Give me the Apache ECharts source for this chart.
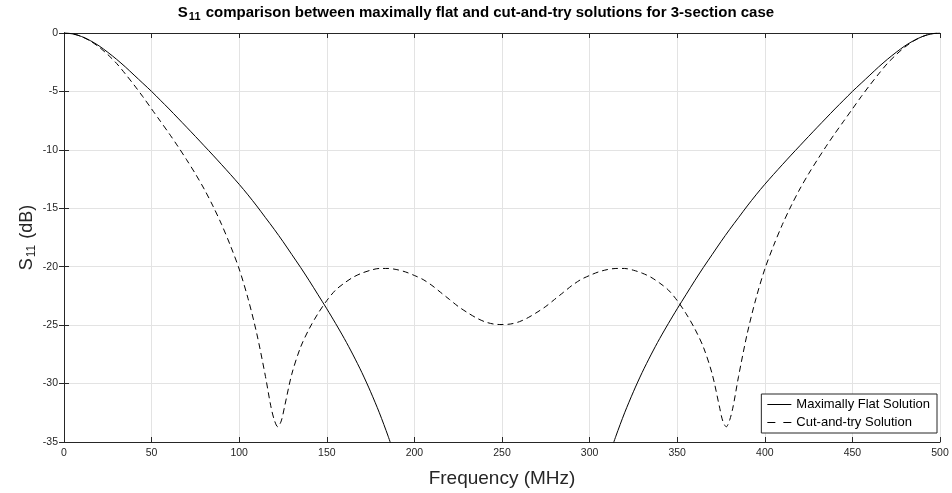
<!DOCTYPE html>
<html>
<head>
<meta charset="utf-8">
<script src="https://cdn.jsdelivr.net/npm/echarts@6/dist/echarts.min.js"></script>
<style>
  html, body { margin: 0; padding: 0; background: #fff; }
  #chart { width: 952px; height: 493px; }
</style>
</head>
<body>
<div id="chart"></div>
<script>
// values (frequency in MHz, S11 in dB)
const flatFreq = [0, 5, 10, 15, 20, 25, 30, 35, 40, 45, 50, 55, 60, 65, 70, 75, 80, 85, 90, 95,
  100, 105, 110, 115, 120, 125, 130, 135, 140, 145, 150, 155, 160, 165, 170, 175, 180, 185, 190,
  310, 315, 320, 325, 330, 335, 340, 345, 350, 355, 360, 365, 370, 375, 380, 385, 390, 395,
  400, 405, 410, 415, 420, 425, 430, 435, 440, 445, 450, 455, 460, 465, 470, 475, 480, 485, 490, 495, 500];
const flatS11 = [0, -0.08, -0.3, -0.65, -1.1, -1.65, -2.25, -2.9, -3.6, -4.3, -5.0, -5.75, -6.5, -7.28, -8.06, -8.85, -9.65, -10.45, -11.27, -12.1,
  -12.95, -13.85, -14.8, -15.8, -16.8, -17.85, -18.95, -20.05, -21.2, -22.4, -23.6, -24.85, -26.15, -27.55, -29.05, -30.7, -32.5, -34.5, -36.7,
  -36.7, -34.5, -32.5, -30.7, -29.05, -27.55, -26.15, -24.85, -23.6, -22.4, -21.2, -20.05, -18.95, -17.85, -16.8, -15.8, -14.8, -13.85,
  -12.95, -12.1, -11.27, -10.45, -9.65, -8.85, -8.06, -7.28, -6.5, -5.75, -5.0, -4.3, -3.6, -2.9, -2.25, -1.65, -1.1, -0.65, -0.3, -0.08, 0];

const cutFreq = [0, 5, 10, 15, 20, 25, 30, 35, 40, 45, 50, 55, 60, 65, 70, 75, 80, 85, 90, 95,
  100, 105, 110, 115, 118, 120, 122, 124, 126, 130, 135, 140, 145, 150, 155, 160, 165, 170, 175, 180,
  185, 190, 195, 200, 205, 210, 215, 220, 225, 230, 235, 240, 245, 250, 255, 260, 265, 270, 275, 280,
  285, 290, 295, 300, 305, 310, 315, 320, 325, 330, 335, 340, 345, 350, 355, 360, 365, 370, 374, 376,
  378, 380, 382, 385, 390, 395, 400, 405, 410, 415, 420, 425, 430, 435, 440, 445, 450, 455, 460, 465,
  470, 475, 480, 485, 490, 495, 500];
const cutS11 = [0, -0.07, -0.3, -0.68, -1.2, -1.85, -2.6, -3.5, -4.45, -5.45, -6.5, -7.55, -8.6, -9.7, -10.85, -12.05, -13.35, -14.8, -16.4, -18.2,
  -20.2, -22.7, -25.7, -29.4, -31.9, -33.1, -33.7, -33.2, -31.9, -29.2, -26.9, -25.3, -24.0, -22.9, -22.0, -21.4, -20.9, -20.55, -20.3, -20.15,
  -20.15, -20.25, -20.45, -20.75, -21.1, -21.6, -22.2, -22.8, -23.4, -23.9, -24.35, -24.7, -24.9, -24.95, -24.9, -24.7, -24.35, -23.9, -23.4, -22.8,
  -22.2, -21.6, -21.1, -20.75, -20.45, -20.25, -20.15, -20.15, -20.3, -20.55, -20.9, -21.4, -22.0, -22.9, -24.0, -25.3, -26.9, -29.2, -31.9, -33.2,
  -33.7, -33.1, -31.9, -29.4, -25.7, -22.7, -20.2, -18.2, -16.4, -14.8, -13.35, -12.05, -10.85, -9.7, -8.6, -7.55, -6.5, -5.45, -4.45, -3.5,
  -2.6, -1.85, -1.2, -0.68, -0.3, -0.07, 0];

const xTicks = [0, 50, 100, 150, 200, 250, 300, 350, 400, 450, 500];
const yTicks = [-35, -30, -25, -20, -15, -10, -5, 0];

const FONT = '"Liberation Sans", Arial, Helvetica, sans-serif';
const AXIS_COLOR = '#262626';
const LABEL_COLOR = '#262626';

function pairs(xs, ys) {
    let out = [];
    for (let i = 0; i < xs.length; i++) {
        // gap where the flat solution drops far below the plot
        if (i > 0 && xs[i] - xs[i - 1] > 50)
            out.push([null, null]);
        out.push([xs[i], ys[i]]);
    }
    return out;
}

const boxAxis = {
    axisLine: { show: true, lineStyle: { color: AXIS_COLOR, width: 1 } },
    axisTick: { show: true, inside: true, length: 5, lineStyle: { color: AXIS_COLOR } },
    axisLabel: { show: false },
    splitLine: { show: false }
};

let chart = echarts.init(document.getElementById('chart'), null, { renderer: 'canvas' });

let option = {
    backgroundColor: '#fff',
    animation: false,
    title: {
        text: '{a|S}{b|11}{a| comparison between maximally flat and cut-and-try solutions for 3-section case}',
        left: 'center',
        top: 0,
        textStyle: {
            rich: {
                a: { fontFamily: FONT, fontWeight: 'bold', fontSize: 15, color: '#000', verticalAlign: 'top', lineHeight: 17 },
                b: { fontFamily: FONT, fontWeight: 'bold', fontSize: 11, color: '#000', verticalAlign: 'bottom', lineHeight: 11, padding: [12, 1, 0, 1] }
            }
        }
    },
    grid: { left: 64, right: 12, top: 33, bottom: 50, containLabel: false },
    legend: {
        orient: 'vertical',
        right: 15,
        bottom: 60,
        backgroundColor: '#fff',
        borderColor: AXIS_COLOR,
        borderWidth: 1,
        borderRadius: 0,
        padding: [4, 7, 4, 6],
        itemWidth: 24,
        itemHeight: 12,
        itemGap: 5,
        textStyle: { fontFamily: FONT, fontSize: 13, color: '#000' },
        data: [
            { name: 'Maximally Flat Solution', icon: 'path://M0,0h24v1h-24z' },
            { name: 'Cut-and-try Solution', icon: 'path://M0,0h8v1h-8zM16,0h8v1h-8z' }
        ]
    },
    xAxis: [
        {
            type: 'value',
            min: 0, max: 500, interval: 50,
            name: 'Frequency (MHz)',
            nameLocation: 'middle',
            nameMoveOverlap: false,
            nameGap: 27,
            nameTextStyle: { fontFamily: FONT, fontSize: 19, color: LABEL_COLOR },
            axisLine: { show: true, onZero: false, lineStyle: { color: AXIS_COLOR, width: 1 } },
            axisTick: { show: true, inside: true, length: 5, lineStyle: { color: AXIS_COLOR } },
            axisLabel: {
                fontFamily: FONT, fontSize: 10.5, color: LABEL_COLOR, margin: 6,
                formatter: v => xTicks.indexOf(v) >= 0 ? String(v) : ''
            },
            splitLine: { show: true, lineStyle: { color: '#e3e3e3', width: 1 } }
        },
        Object.assign({ type: 'value', position: 'top', min: 0, max: 500, interval: 50 }, boxAxis)
    ],
    yAxis: [
        {
            type: 'value',
            min: -35, max: 0, interval: 5,
            name: '{a|S}{b|11}{a| (dB)}',
            nameLocation: 'middle',
            nameRotate: 90,
            nameMoveOverlap: false,
            nameGap: 26,
            nameTextStyle: {
                rich: {
                    a: { fontFamily: FONT, fontSize: 18, color: LABEL_COLOR, verticalAlign: 'top', lineHeight: 20 },
                    b: { fontFamily: FONT, fontSize: 12, color: LABEL_COLOR, verticalAlign: 'bottom', lineHeight: 12, padding: [12, 1, 0, 1] }
                }
            },
            axisLine: { show: true, onZero: false, lineStyle: { color: AXIS_COLOR, width: 1 } },
            axisTick: { show: true, inside: true, length: 5, lineStyle: { color: AXIS_COLOR } },
            axisLabel: {
                fontFamily: FONT, fontSize: 10.5, color: LABEL_COLOR, margin: 6,
                formatter: v => yTicks.indexOf(v) >= 0 ? String(v) : ''
            },
            splitLine: { show: true, lineStyle: { color: '#e3e3e3', width: 1 } }
        },
        Object.assign({ type: 'value', position: 'right', min: -35, max: 0, interval: 5 }, boxAxis)
    ],
    series: [
        {
            name: 'Maximally Flat Solution',
            type: 'line',
            xAxisIndex: 0, yAxisIndex: 0,
            data: pairs(flatFreq, flatS11),
            symbol: 'none',
            smooth: 0.3,
            clip: true,
            connectNulls: false,
            lineStyle: { color: '#000', width: 1, type: 'solid' },
            itemStyle: { color: '#000' }
        },
        {
            name: 'Cut-and-try Solution',
            type: 'line',
            xAxisIndex: 0, yAxisIndex: 0,
            data: pairs(cutFreq, cutS11),
            symbol: 'none',
            smooth: 0.3,
            clip: true,
            lineStyle: { color: '#000', width: 1, type: [6, 4] },
            itemStyle: { color: '#000' }
        }
    ]
};

chart.setOption(option);
</script>
</body>
</html>
